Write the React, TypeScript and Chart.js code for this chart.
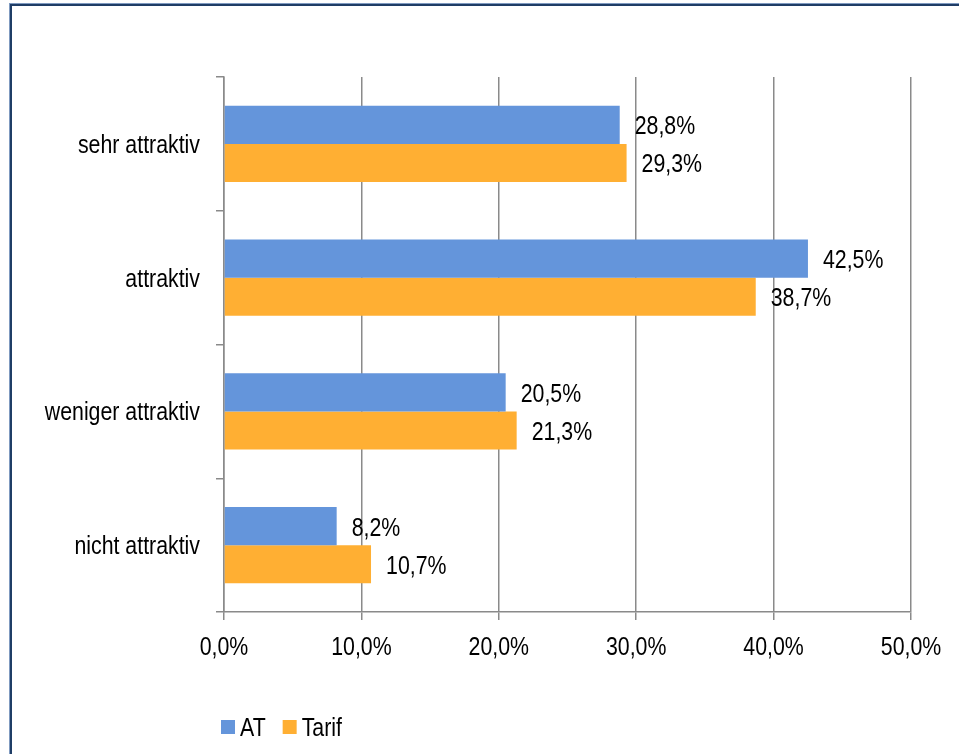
import React, { useEffect, useRef } from "react";
import { Chart, registerables } from "chart.js";

Chart.register(...registerables);

const categories = ["sehr attraktiv", "attraktiv", "weniger attraktiv", "nicht attraktiv"];
const atValues = [28.8, 42.5, 20.5, 8.2];
const tarifValues = [29.3, 38.7, 21.3, 10.7];
const seriesNames = ["AT", "Tarif"];
const seriesColors = ["#6495DB", "#FFAF33"];
const xTicks = [0, 10, 20, 30, 40, 50];

const FONT = "'Liberation Sans', Arial, sans-serif";
const FONT_SIZE = 26;
const SX = 0.82; // horizontal condensing to mimic Arial Narrow
const GRID = "#8A8A8A";

const fmt = (v: number) => v.toFixed(1).replace(".", ",") + "%";

function drawText(ctx: CanvasRenderingContext2D, text: string, x: number, y: number, align: CanvasTextAlign) {
  ctx.save();
  ctx.translate(x, y);
  ctx.scale(SX, 1);
  ctx.textAlign = align;
  ctx.textBaseline = "alphabetic";
  ctx.fillText(text, 0, 0);
  ctx.restore();
}

export default function App() {
  const ref = useRef<HTMLCanvasElement | null>(null);

  useEffect(() => {
    if (!ref.current) return;
    document.body.style.margin = "0";

    const textPlugin = {
      id: "textLayer",
      afterDraw(chart: any) {
        const ctx: CanvasRenderingContext2D = chart.ctx;
        ctx.save();
        ctx.font = `${FONT_SIZE}px ${FONT}`;
        ctx.fillStyle = "#000";

        // value labels
        chart.data.datasets.forEach((ds: any, di: number) => {
          const meta = chart.getDatasetMeta(di);
          meta.data.forEach((bar: any, i: number) => {
            drawText(ctx, fmt(ds.data[i]), bar.x + 15, bar.y + 9.5, "left");
          });
        });

        // category labels
        const yScale = chart.scales.y;
        chart.data.labels.forEach((lab: string, i: number) => {
          const y = yScale.getPixelForValue(i);
          drawText(ctx, lab, yScale.right - 8 - 16, y + 9, "right");
        });

        // x tick labels
        const xScale = chart.scales.x;
        xTicks.forEach((v) => {
          drawText(ctx, fmt(v), xScale.getPixelForValue(v), 655, "center");
        });

        // legend
        let x = 221;
        seriesNames.forEach((name, i) => {
          ctx.fillStyle = seriesColors[i];
          ctx.fillRect(x, 720, 14, 14);
          ctx.fillStyle = "#000";
          drawText(ctx, name, x + 19, 736, "left");
          x += 19 + ctx.measureText(name).width * SX + 17;
        });
        ctx.restore();
      },
    };

    const chart = new Chart(ref.current, {
      type: "bar",
      data: {
        labels: categories,
        datasets: [
          { label: seriesNames[0], data: atValues, backgroundColor: seriesColors[0], categoryPercentage: 0.57, barPercentage: 1 },
          { label: seriesNames[1], data: tarifValues, backgroundColor: seriesColors[1], categoryPercentage: 0.57, barPercentage: 1 },
        ],
      },
      options: {
        indexAxis: "y",
        responsive: false,
        animation: false,
        devicePixelRatio: 1,
        layout: { padding: { top: 77, right: 48, left: 0, bottom: 0 } },
        plugins: { legend: { display: false }, tooltip: { enabled: false } },
        scales: {
          x: {
            min: 0,
            max: 50,
            afterBuildTicks(scale: any) {
              scale.ticks = xTicks.map((v) => ({ value: v }));
            },
            afterFit(scale: any) {
              scale.height = 754 - 612;
            },
            ticks: { display: false },
            grid: { color: GRID, lineWidth: 1.5, tickLength: 8, drawTicks: true },
            border: { display: true, color: GRID, width: 1.5 },
          },
          y: {
            afterFit(scale: any) {
              scale.width = 224;
            },
            ticks: { display: false },
            grid: { drawOnChartArea: false, color: GRID, lineWidth: 1.5, tickLength: 8, offset: true },
            border: { display: true, color: GRID, width: 1.5 },
          },
        },
      },
      plugins: [textPlugin],
    });
    return () => chart.destroy();
  }, []);

  return (
    <div style={{ position: "absolute", left: 0, top: 0, width: 959, height: 754, overflow: "hidden", background: "#fff" }}>
      <canvas ref={ref} width={959} height={754} style={{ position: "absolute", left: 0, top: 0 }} />
      <div
        style={{
          position: "absolute",
          left: 10,
          top: 4,
          width: 1000,
          height: 800,
          border: "2px solid #1F3D66",
          boxShadow: "0 0 0 1px #7F9AC0",
          pointerEvents: "none",
        }}
      />
    </div>
  );
}
